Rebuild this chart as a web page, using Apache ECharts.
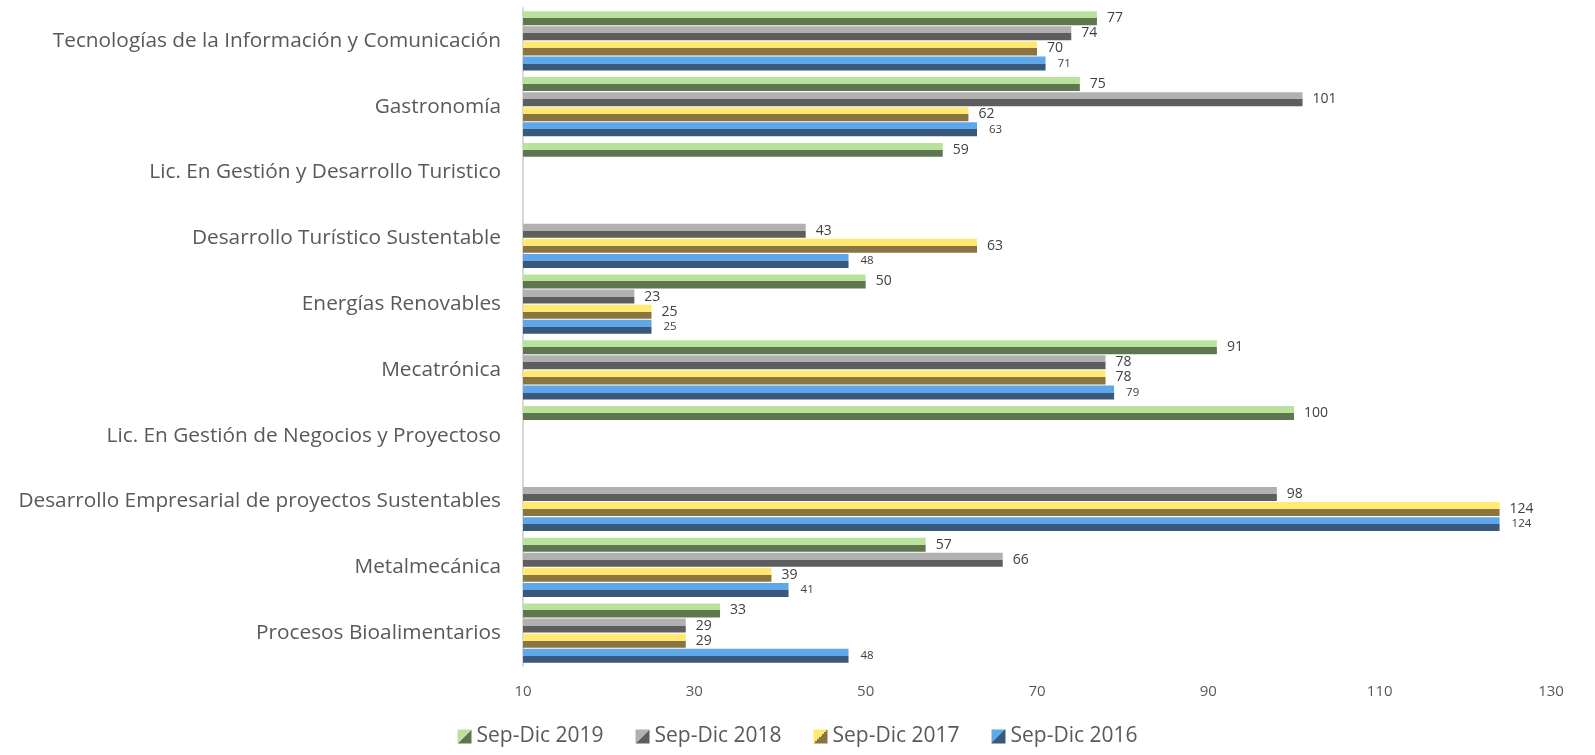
<!DOCTYPE html>
<html><head><meta charset="utf-8">
<script src="https://cdn.jsdelivr.net/npm/echarts@6/dist/echarts.min.js"></script>
<style>html,body{margin:0;padding:0;background:#fff}#c{width:1595px;height:755px}</style>
</head><body><div id="c"></div>
<script>
const categories = [
  "Tecnologías de la Información y Comunicación",
  "Gastronomía",
  "Lic. En Gestión y Desarrollo Turistico",
  "Desarrollo Turístico Sustentable",
  "Energías Renovables",
  "Mecatrónica",
  "Lic. En Gestión de Negocios y Proyectoso",
  "Desarrollo Empresarial de proyectos Sustentables",
  "Metalmecánica",
  "Procesos Bioalimentarios"
];
const seriesNames = ["Sep-Dic 2019", "Sep-Dic 2018", "Sep-Dic 2017", "Sep-Dic 2016"];
const v2019 = [77, 75, 59, null, 50, 91, 100, null, 57, 33];
const v2018 = [74, 101, null, 43, 23, 78, null, 98, 66, 29];
const v2017 = [70, 62, null, 63, 25, 78, null, 124, 39, 29];
const v2016 = [71, 63, null, 48, 25, 79, null, 124, 41, 48];
const xTicks = { min: 10, max: 130, interval: 20 };

const light = ["#b9e29d", "#b1b1b1", "#ffe972", "#5ea7e8"];
const dark = ["#5f7750", "#5e5e5e", "#8a7540", "#38597b"];
const allValues = [v2019, v2018, v2017, v2016];

function grad(i) {
  return new echarts.graphic.LinearGradient(0, 0, 0, 1, [
    {offset: 0, color: light[i]}, {offset: 0.5, color: light[i]},
    {offset: 0.5, color: dark[i]}, {offset: 1, color: dark[i]}
  ]);
}
function diag(i) {
  return new echarts.graphic.LinearGradient(0, 0, 1, 1, [
    {offset: 0, color: light[i]}, {offset: 0.5, color: light[i]},
    {offset: 0.5, color: dark[i]}, {offset: 1, color: dark[i]}
  ]);
}

const chart = echarts.init(document.getElementById('c'), null, {renderer: 'canvas'});
const font = '"Open Sans", Lato, sans-serif';
chart.setOption({
  animation: false,
  textStyle: {fontFamily: font},
  grid: {left: 523, right: 44, top: 8, bottom: 89, containLabel: false},
  legend: {
    bottom: 3, left: 'center', itemWidth: 14, itemHeight: 14, itemGap: 32, itemTextGap: 4,
    icon: 'rect',
    textStyle: {fontSize: 21, color: '#595959', fontFamily: font},
    data: seriesNames.map((n, i) => ({name: n, itemStyle: {color: diag(i)}}))
  },
  xAxis: {
    type: 'value', min: xTicks.min, max: xTicks.max, interval: xTicks.interval,
    axisLine: {show: false}, axisTick: {show: false}, splitLine: {show: false},
    axisLabel: {fontSize: 15, color: '#595959', margin: 18, fontFamily: font}
  },
  yAxis: {
    type: 'category', data: categories, inverse: true,
    axisLine: {show: true, lineStyle: {color: '#d9d9d9', width: 2}},
    axisTick: {show: false},
    axisLabel: {fontSize: 20.8, color: '#595959', margin: 22, fontFamily: font}
  },
  series: seriesNames.map((n, i) => ({
    name: n, type: 'bar',
    data: allValues[i],
    barGap: '8%', barCategoryGap: '10%',
    itemStyle: {color: grad(i)},
    label: {
      show: true, position: 'right', distance: i === 3 ? 12 : 10,
      fontSize: i === 3 ? 11.5 : 14, color: '#404040', fontFamily: font
    }
  }))
});
</script></body></html>
